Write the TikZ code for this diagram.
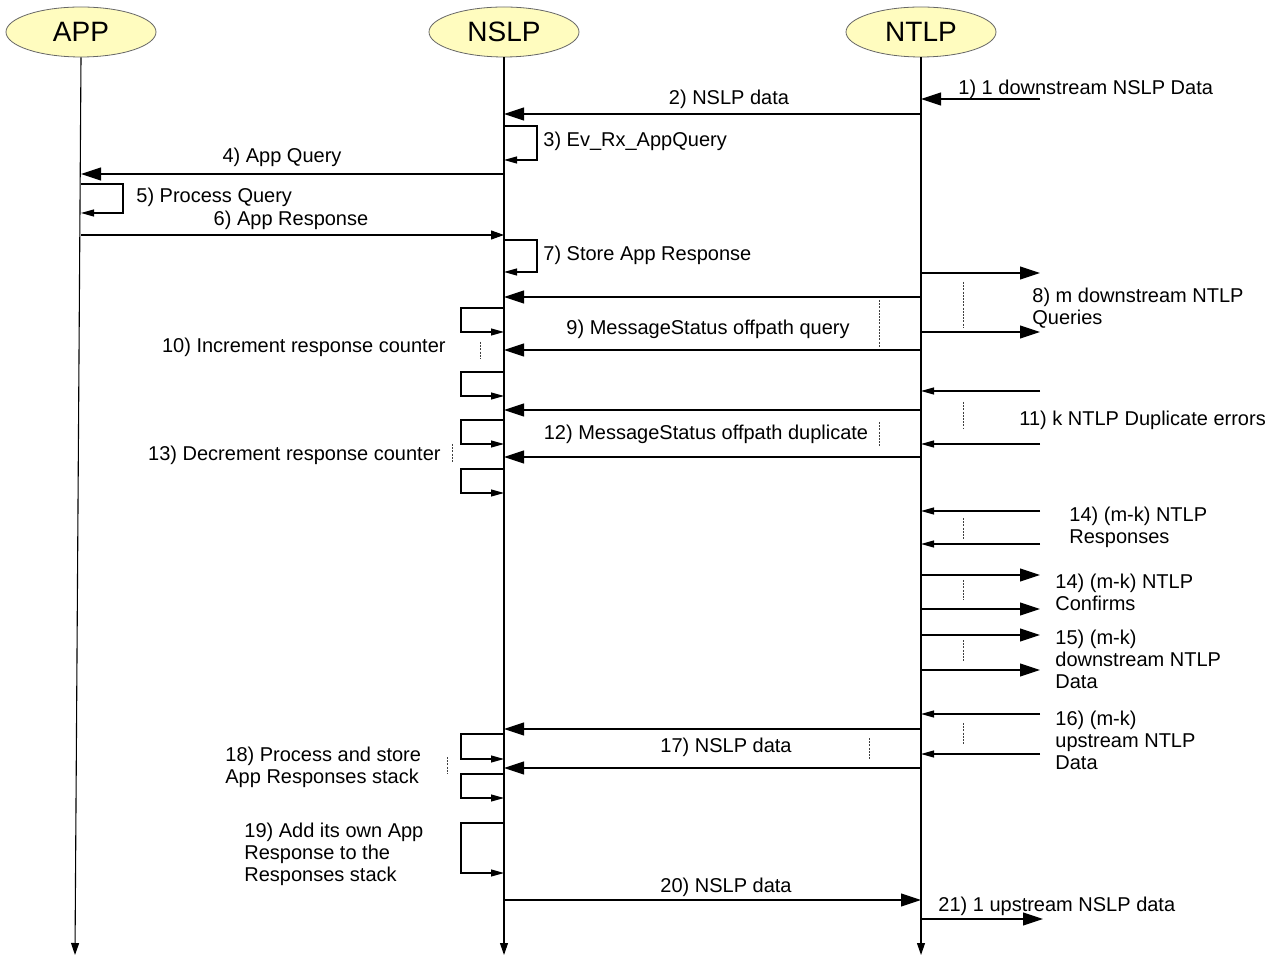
\documentclass[tikz,border=0pt]{standalone}
\usepackage{fontspec}
\setmainfont{Liberation Sans}
\usetikzlibrary{arrows.meta, shapes.geometric}

\tikzset{
  actor/.style={ellipse, draw=gray!80!black, fill=yellow!25, minimum width=75pt, minimum height=25pt, inner sep=0pt, font=\fontsize{14}{16}\selectfont},
  lifeline/.style={-{Triangle[length=6pt,width=4pt]}, line width=0.55pt},
  bigmsg/.style={-{Triangle[length=10pt,width=6.5pt]}, line width=0.55pt},
  midmsg/.style={-{Triangle[length=6.5pt,width=4.5pt]}, line width=0.55pt},
  smallmsg/.style={-{Triangle[length=6.5pt,width=3.5pt]}, line width=0.55pt},
  dots/.style={dash pattern=on 1pt off 0.6pt, line width=0.45pt, black!75},
  lbl/.style={font=\fontsize{10}{11}\selectfont, inner sep=0pt, align=left},
}

\begin{document}
\begin{tikzpicture}[x=0.5pt, y=-0.5pt]
\useasboundingbox (0,0) rectangle (1274,956);

% Actors and life lines
\node[actor] (app) at (81,32) {APP};
\node[actor] (nslp) at (504,32) {NSLP};
\node[actor] (ntlp) at (921,32) {NTLP};
\coordinate (ext) at (1040,0);
\draw[lifeline] (app.south) -- (75,955);
\draw[lifeline] (nslp.south) -- (nslp |- 0,955);
\draw[lifeline] (ntlp.south) -- (ntlp |- 0,955);

% 1) and 2)
\draw[bigmsg] (ext |- 0,99) -- (ntlp |- 0,99);
\node[lbl, anchor=base west] (l1) at (958,95) {1) 1 downstream NSLP Data};
\draw[bigmsg] (ntlp |- 0,114) -- (nslp |- 0,114);
\node[lbl, anchor=base] (l2) at (729,105) {2) NSLP data};

% 3) self message
\draw[smallmsg] (nslp |- 0,126) -| (537,160) -- (nslp |- 0,160);
\node[lbl, anchor=base west] (l3) at (543,147) {3) Ev\_Rx\_AppQuery};

% 4) to 7)
\draw[bigmsg] (nslp |- 0,174) -- (app |- 0,174);
\node[lbl, anchor=base] (l4) at (282,163) {4) App Query};
\draw[smallmsg] (app |- 0,184) -| (123,213) -- (app |- 0,213);
\node[lbl, anchor=base west] (l5) at (136,203) {5) Process Query};
\draw[midmsg] (app |- 0,235) -- (nslp |- 0,235);
\node[lbl, anchor=base] (l6) at (291,226) {6) App Response};
\draw[smallmsg] (nslp |- 0,240) -| (537,272) -- (nslp |- 0,272);
\node[lbl, anchor=base west] (l7) at (543,261) {7) Store App Response};

% 8) m queries
\draw[bigmsg] (ntlp |- 0,273) -- (ext |- 0,273);
\draw[bigmsg] (ntlp |- 0,332) -- (ext |- 0,332);
\draw[dots] (963,282) -- (963,328);
\node[lbl, anchor=north west] (l8) at (1032,288) {8) m downstream NTLP\\Queries};

% 9) and 10)
\draw[bigmsg] (ntlp |- 0,297) -- (nslp |- 0,297);
\draw[bigmsg] (ntlp |- 0,350) -- (nslp |- 0,350);
\draw[dots] (879,300) -- (879,347);
\node[lbl, anchor=base] (l9) at (708,335) {9) MessageStatus offpath query};
\draw[smallmsg] (nslp |- 0,308) -| (461,332) -- (nslp |- 0,332);
\draw[smallmsg] (nslp |- 0,372) -| (461,396) -- (nslp |- 0,396);
\draw[dots] (480,342) -- (480,359);
\node[lbl, anchor=base east] (l10) at (446,353) {10) Increment response counter};

% 11) k duplicates
\draw[smallmsg] (ext |- 0,391) -- (ntlp |- 0,391);
\draw[smallmsg] (ext |- 0,444) -- (ntlp |- 0,444);
\draw[dots] (963,402) -- (963,429);
\node[lbl, anchor=base west] (l11) at (1019,426) {11) k NTLP Duplicate errors};

% 12) and 13)
\draw[bigmsg] (ntlp |- 0,410) -- (nslp |- 0,410);
\draw[bigmsg] (ntlp |- 0,457) -- (nslp |- 0,457);
\draw[dots] (879,422) -- (879,447);
\node[lbl, anchor=base] (l12) at (706,440) {12) MessageStatus offpath duplicate};
\draw[smallmsg] (nslp |- 0,420) -| (461,444) -- (nslp |- 0,444);
\draw[smallmsg] (nslp |- 0,469) -| (461,493) -- (nslp |- 0,493);
\draw[dots] (452,444) -- (452,463);
\node[lbl, anchor=base east] (l13) at (441,461) {13) Decrement response counter};

% 14) responses and confirms
\draw[smallmsg] (ext |- 0,511) -- (ntlp |- 0,511);
\draw[smallmsg] (ext |- 0,544) -- (ntlp |- 0,544);
\draw[dots] (963,518) -- (963,540);
\node[lbl, anchor=north west] (l14a) at (1069,507) {14) (m-k) NTLP\\Responses};
\draw[bigmsg] (ntlp |- 0,575) -- (ext |- 0,575);
\draw[bigmsg] (ntlp |- 0,609) -- (ext |- 0,609);
\draw[dots] (963,580) -- (963,600);
\node[lbl, anchor=north west] (l14b) at (1055,574) {14) (m-k) NTLP\\Confirms};

% 15) and 16)
\draw[bigmsg] (ntlp |- 0,635) -- (ext |- 0,635);
\draw[bigmsg] (ntlp |- 0,670) -- (ext |- 0,670);
\draw[dots] (963,640) -- (963,662);
\node[lbl, anchor=north west] (l15) at (1055,630) {15) (m-k)\\downstream NTLP\\Data};
\draw[smallmsg] (ext |- 0,714) -- (ntlp |- 0,714);
\draw[smallmsg] (ext |- 0,754) -- (ntlp |- 0,754);
\draw[dots] (963,723) -- (963,745);
\node[lbl, anchor=north west] (l16) at (1055,711) {16) (m-k)\\upstream NTLP\\Data};

% 17) and 18)
\draw[bigmsg] (ntlp |- 0,729) -- (nslp |- 0,729);
\draw[bigmsg] (ntlp |- 0,768) -- (nslp |- 0,768);
\draw[dots] (869,738) -- (869,760);
\node[lbl, anchor=base] (l17) at (726,752) {17) NSLP data};
\draw[smallmsg] (nslp |- 0,734) -| (461,759) -- (nslp |- 0,759);
\draw[smallmsg] (nslp |- 0,774) -| (461,798) -- (nslp |- 0,798);
\draw[dots] (447,757) -- (447,774);
\node[lbl, anchor=north west] (l18) at (225,747) {18) Process and store\\App Responses stack};

% 19) to 21)
\draw[smallmsg] (nslp |- 0,823) -| (461,873) -- (nslp |- 0,873);
\node[lbl, anchor=north west] (l19) at (244,823) {19) Add its own App\\Response to the\\Responses stack};
\draw[bigmsg] (nslp |- 0,900) -- (ntlp |- 0,900);
\node[lbl, anchor=base] (l20) at (726,892) {20) NSLP data};
\draw[bigmsg] (ntlp |- 0,919) -- (1043,919);
\node[lbl, anchor=base west] (l21) at (938,911) {21) 1 upstream NSLP data};

\end{tikzpicture}
\end{document}
